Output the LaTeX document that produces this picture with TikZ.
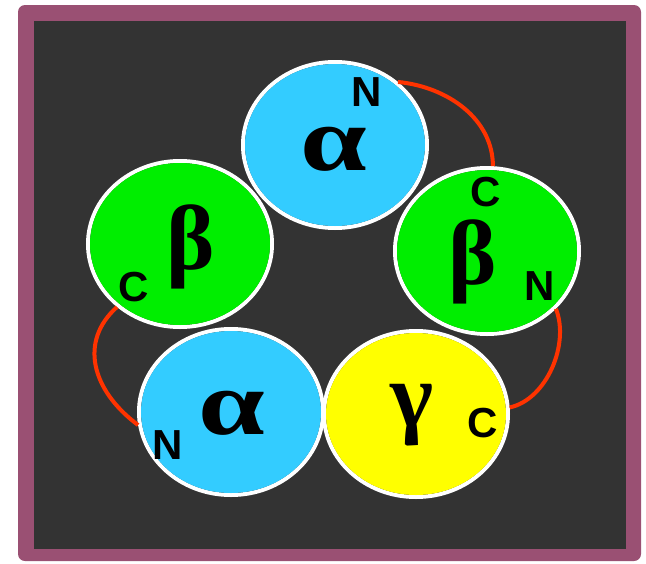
\documentclass[tikz,border=0pt]{standalone}
\usepackage{fontspec}
\setmainfont{Liberation Serif}
\newfontfamily\labfont{Liberation Sans}
\usetikzlibrary{shapes.geometric}
\definecolor{framec}{HTML}{9A5073}
\definecolor{darkbg}{HTML}{333333}
\definecolor{subblue}{HTML}{33CCFF}
\definecolor{subgreen}{HTML}{00EE00}
\definecolor{subyellow}{HTML}{FFFF00}
\definecolor{linkred}{HTML}{FF3300}
\tikzset{
  subunit/.style={ellipse, draw=white, line width=4pt, minimum width=184pt, minimum height=166pt, inner sep=0pt},
  greek/.style={inner sep=0pt, font=\fontsize{92}{92}\selectfont\bfseries},
  term/.style={inner sep=0pt, font=\labfont\fontsize{42}{42}\selectfont\bfseries},
  link/.style={draw=linkred, line width=4pt}
}
\newcommand{\widealpha}{\scalebox{1.3}[1]{α}}
\begin{document}
\begin{tikzpicture}[x=1pt,y=-1pt]
\useasboundingbox (0,0) rectangle (646,563);
\fill[framec, rounded corners=7pt] (18,5) rectangle (641,561);
\fill[darkbg] (34,21) rectangle (626,549);
% subunit ellipses (positions)
\coordinate (pA) at (335,145);
\coordinate (pBl) at (180,244);
\coordinate (pBr) at (487,251);
\coordinate (pAb) at (231,412);
\coordinate (pG) at (416,414);
\path (pA) node[subunit] (topA) {};
\path (pBl) node[subunit] (leftB) {};
\path (pBr) node[subunit] (rightB) {};
\path (pAb) node[subunit] (botA) {};
\path (pG) node[subunit] (gam) {};
% links
\draw[link] (topA.45) .. controls +(50,5) and +(0,-47) .. (rightB.86);
\draw[link] (rightB.-40) .. controls +(14,35) and +(37,-8) .. (gam.4);
\draw[link] (leftB.-135) .. controls +(-38,34) and +(-47,-35) .. (botA.-172);
% fills on top
\fill[subblue] (topA.center) ellipse (90pt and 81pt);
\fill[subgreen] (leftB.center) ellipse (90pt and 81pt);
\fill[subgreen] (rightB.center) ellipse (90pt and 81pt);
\fill[subblue] (botA.center) ellipse (90pt and 81pt);
\fill[subyellow] (gam.center) ellipse (90pt and 81pt);
% labels
\node[greek] (tA) at (334,149) {\widealpha};
\node[term] (tAN) at (367,92) {N};
\node[greek] (tBl) at (191,247) {β};
\node[term] (tBlC) at (134,287) {C};
\node[greek] (tBr) at (473,262) {β};
\node[term] (tBrC) at (486,192) {C};
\node[term] (tBrN) at (540,286) {N};
\node[greek] (tAb) at (232,413) {\widealpha};
\node[term] (tAbN) at (168,445) {N};
\node[greek] (tG) at (412,415) {γ};
\node[term] (tGC) at (483,423) {C};
\end{tikzpicture}
\end{document}
